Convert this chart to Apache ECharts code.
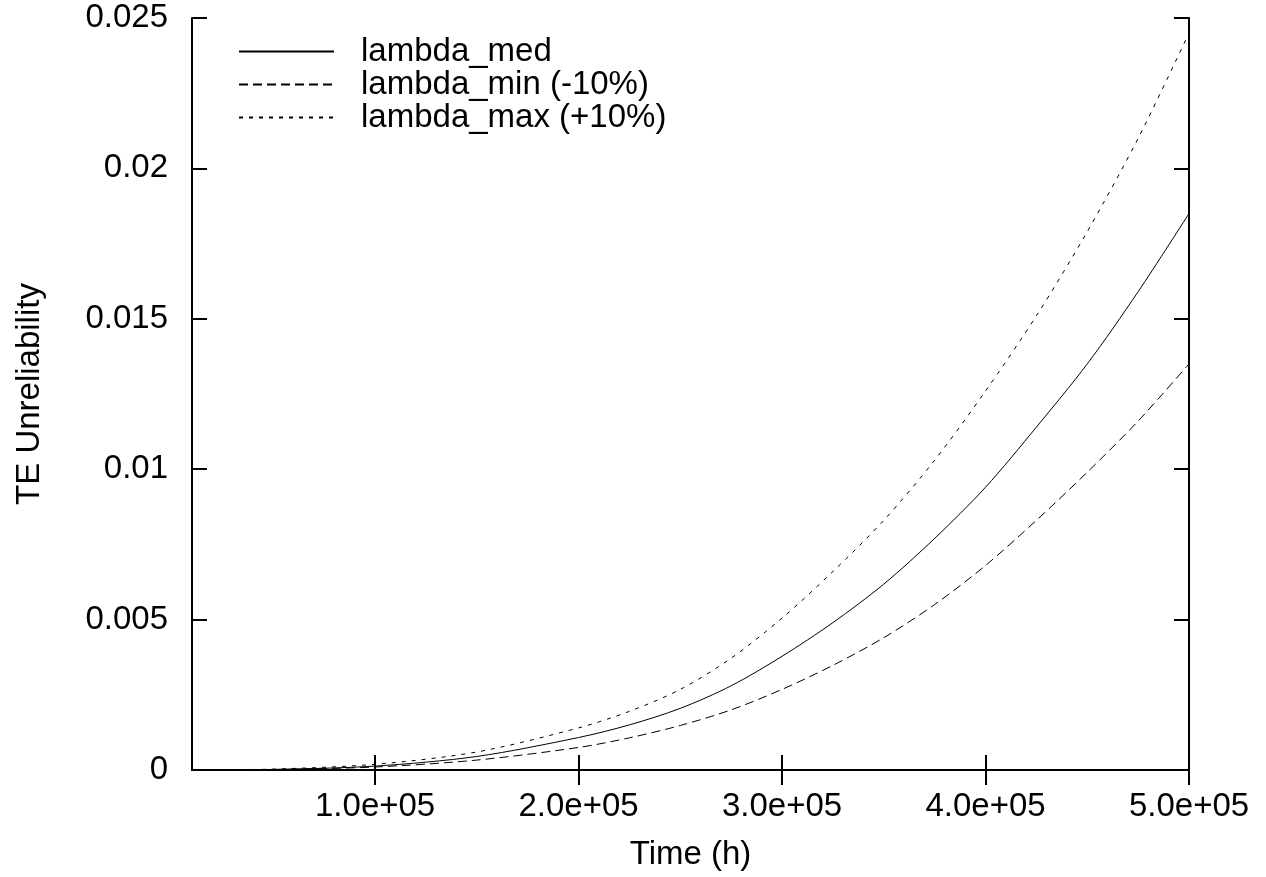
<!DOCTYPE html>
<html>
<head>
<meta charset="utf-8">
<script src="https://cdn.jsdelivr.net/npm/echarts@6/dist/echarts.min.js"></script>
<style>
html,body{margin:0;padding:0;background:#fff;}
#chart{width:1266px;height:877px;}
</style>
</head>
<body>
<div id="chart"></div>
<script>
var times = [10000, 50000, 100000, 150000, 200000, 225000, 250000, 275000, 300000, 325000, 350000, 375000, 400000, 425000, 450000, 475000, 500000];
var lambdaMed = [0, 0.00002, 0.00013, 0.00045, 0.00108, 0.0015, 0.00205, 0.0028, 0.00378, 0.0049, 0.00618, 0.0077, 0.0094, 0.0114, 0.0135, 0.0159, 0.0185];
var lambdaMin = [0, 0.000014, 0.0001, 0.00033, 0.00075, 0.00107, 0.00148, 0.002, 0.00268, 0.00348, 0.0044, 0.0055, 0.0068, 0.0083, 0.0099, 0.0116, 0.0135];
var lambdaMax = [0, 0.00003, 0.00019, 0.0006, 0.0014, 0.00195, 0.00268, 0.00372, 0.00505, 0.0066, 0.0083, 0.0103, 0.0126, 0.0151, 0.0179, 0.021, 0.0245];
var seriesNames = ['lambda_med', 'lambda_min (-10%)', 'lambda_max (+10%)'];
var xTickValues = [100000, 200000, 300000, 400000, 500000];
var xTickLabels = ['1.0e+05', '2.0e+05', '3.0e+05', '4.0e+05', '5.0e+05'];
var yTickLabels = ['0', '0.005', '0.01', '0.015', '0.02', '0.025'];

function pairs(ys) { return times.map(function (t, i) { return [t, ys[i]]; }); }

var FONT = '"Liberation Sans", Arial, sans-serif';
var FS = 33;
var axisLineStyle = { show: true, lineStyle: { color: '#000', width: 2 } };
var chart = echarts.init(document.getElementById('chart'), null, { renderer: 'canvas' });

function xAxisDef(pos, showLabel) {
  return {
    type: 'value', position: pos, min: 10000, max: 500000,
    axisLine: axisLineStyle,
    axisTick: { show: true, inside: true, length: 15, customValues: xTickValues, lineStyle: { color: '#000', width: 2 } },
    axisLabel: {
      show: showLabel, customValues: xTickValues, margin: 20,
      fontSize: FS, color: '#000', fontFamily: FONT,
      formatter: function (v) { return xTickLabels[xTickValues.indexOf(v)]; }
    },
    splitLine: { show: false },
    name: showLabel ? 'Time (h)' : '', nameLocation: 'middle', nameGap: 68,
    nameTextStyle: { fontSize: FS, color: '#000', fontFamily: FONT }
  };
}
function yAxisDef(pos, showLabel) {
  return {
    type: 'value', position: pos, min: 0, max: 0.025, interval: 0.005,
    axisLine: axisLineStyle,
    axisTick: { show: true, inside: true, length: 15, lineStyle: { color: '#000', width: 2 } },
    axisLabel: {
      show: showLabel, margin: 24, fontSize: FS, color: '#000', fontFamily: FONT,
      formatter: function (v) { return yTickLabels[Math.round(v / 0.005)]; }
    },
    splitLine: { show: false },
    name: showLabel ? 'TE Unreliability' : '', nameLocation: 'middle', nameGap: 146,
    nameTextStyle: { fontSize: FS, color: '#000', fontFamily: FONT }
  };
}

var styles = ['solid', [9, 5], [4, 6]];
var datas = [lambdaMed, lambdaMin, lambdaMax];

chart.setOption({
  animation: false,
  backgroundColor: '#fff',
  grid: { left: 192, right: 77, top: 18, bottom: 107, containLabel: false },
  legend: {
    orient: 'vertical', left: 233, top: 30,
    itemWidth: 95, itemHeight: 14, itemGap: 0,
    itemStyle: { opacity: 0 },
    textStyle: { fontSize: FS, lineHeight: 32, color: '#000', fontFamily: FONT, padding: [0, 0, 0, 22] },
    data: seriesNames.map(function (n) { return { name: n }; })
  },
  xAxis: [xAxisDef('bottom', true), xAxisDef('top', false)],
  yAxis: [yAxisDef('left', true), yAxisDef('right', false)],
  series: seriesNames.map(function (n, i) {
    return {
      name: n, type: 'line', xAxisIndex: 0, yAxisIndex: 0,
      data: pairs(datas[i]), smooth: 0.3, showSymbol: false, symbol: 'none',
      lineStyle: { color: '#000', width: 1, type: styles[i] },
      itemStyle: { color: '#000' }
    };
  })
});
</script>
</body>
</html>
